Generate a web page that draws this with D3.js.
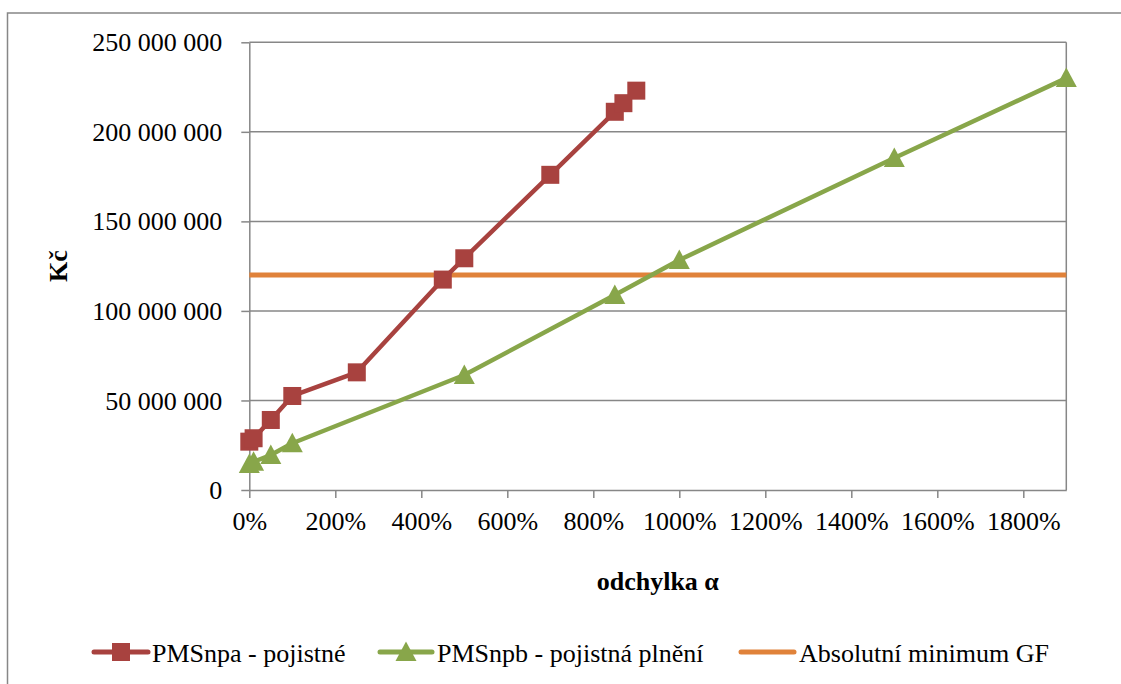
<!DOCTYPE html>
<html>
<head>
<meta charset="utf-8">
<script src="https://cdn.jsdelivr.net/npm/d3@7"></script>
<style>
body { margin: 0; background: #fff; }
</style>
</head>
<body>
<svg id="chart" width="1121" height="684"></svg>
<script>
// odchylka (v %) a hodnoty v Kč
var pojistneX = [0, 10, 50, 100, 250, 450, 500, 700, 850, 870, 900];
var pojistneY = [27.0e6, 28.9e6, 39.1e6, 52.5e6, 65.7e6, 117.5e6, 129.4e6, 176.0e6, 211.2e6, 216.0e6, 223.0e6];

var plneniX = [0, 10, 50, 100, 500, 850, 1000, 1500, 1900];
var plneniY = [14.5e6, 15.8e6, 19.5e6, 26.1e6, 64.2e6, 108.9e6, 128.4e6, 185.4e6, 230.0e6];

var minimumGF = 120e6;

var xTicks = [0, 200, 400, 600, 800, 1000, 1200, 1400, 1600, 1800];
var yTicks = [0, 50e6, 100e6, 150e6, 200e6, 250e6];

var seriesNames = ["PMSnpa - pojistné", "PMSnpb - pojistná plnění", "Absolutní minimum GF"];

var RED = "#a8423f", GREEN = "#88a64a", ORANGE = "#e0823a", GRID = "#878787";
var FONT = "'Liberation Serif', 'Times New Roman', serif";

var svg = d3.select("#chart").style("font-family", FONT);

// outer frame (right and bottom edges are cut off)
svg.append("rect")
    .attr("x", 7.5).attr("y", 13)
    .attr("width", 1200).attr("height", 800)
    .attr("fill", "none").attr("stroke", GRID).attr("stroke-width", 1.5);

var x = d3.scaleLinear().domain([0, 1900]).range([249.3, 1066.3]);
var y = d3.scaleLinear().domain([0, 250e6]).range([490, 42.3]);

var fmt = d3.formatLocale({decimal: ",", thousands: " ", grouping: [3], currency: ["", " Kč"]}).format(",d");

// horizontal gridlines
svg.append("g").selectAll("line")
    .data(yTicks.slice(1))
    .enter().append("line")
    .attr("x1", x(0)).attr("x2", x(1900))
    .attr("y1", function (d) { return y(d); })
    .attr("y2", function (d) { return y(d); })
    .attr("stroke", GRID).attr("stroke-width", 1.5);

// right border of plot area
svg.append("line")
    .attr("x1", x(1900)).attr("x2", x(1900))
    .attr("y1", y(250e6)).attr("y2", y(0))
    .attr("stroke", GRID).attr("stroke-width", 1.5);

// y axis
var yAxis = svg.append("g")
    .attr("transform", "translate(" + x(0) + ",0)")
    .call(d3.axisLeft(y).tickValues(yTicks).tickFormat(fmt).tickSizeInner(8).tickSizeOuter(0).tickPadding(19));
yAxis.attr("font-family", null).attr("font-size", null);
yAxis.select(".domain").attr("stroke", GRID).attr("stroke-width", 1.5);
yAxis.selectAll(".tick line").attr("stroke", GRID).attr("stroke-width", 1.5);
yAxis.selectAll(".tick text").style("font-family", FONT).style("font-size", "26px").attr("fill", "#000").attr("dy", "0.33em");

// x axis
var xAxis = svg.append("g")
    .attr("transform", "translate(0," + y(0) + ")")
    .call(d3.axisBottom(x).tickValues(xTicks).tickFormat(function (d) { return d + "%"; }).tickSizeInner(8).tickSizeOuter(0).tickPadding(14));
xAxis.attr("font-family", null).attr("font-size", null);
xAxis.select(".domain").attr("stroke", GRID).attr("stroke-width", 1.5);
xAxis.selectAll(".tick line").attr("stroke", GRID).attr("stroke-width", 1.5);
xAxis.selectAll(".tick text").style("font-family", FONT).style("font-size", "26px").attr("fill", "#000");

// axis titles
svg.append("text")
    .attr("x", (x(0) + x(1900)) / 2).attr("y", 590)
    .attr("text-anchor", "middle")
    .style("font-family", FONT).style("font-size", "26px").style("font-weight", "bold")
    .text("odchylka α");

svg.append("text")
    .attr("transform", "translate(67,266) rotate(-90)")
    .attr("text-anchor", "middle")
    .style("font-family", FONT).style("font-size", "26px").style("font-weight", "bold")
    .text("Kč");

// series
var line = d3.line()
    .x(function (d) { return x(d[0]); })
    .y(function (d) { return y(d[1]); });

var orange = [[0, minimumGF], [1900, minimumGF]];
var red = d3.zip(pojistneX, pojistneY);
var green = d3.zip(plneniX, plneniY);

svg.append("path").datum(orange)
    .attr("d", line).attr("fill", "none")
    .attr("stroke", ORANGE).attr("stroke-width", 5);

svg.append("path").datum(green)
    .attr("d", line).attr("fill", "none")
    .attr("stroke", GREEN).attr("stroke-width", 4.5).attr("stroke-linejoin", "round");

svg.append("path").datum(red)
    .attr("d", line).attr("fill", "none")
    .attr("stroke", RED).attr("stroke-width", 4.5).attr("stroke-linejoin", "round");

function triangle(cx, cy) {
    return "M" + cx + "," + (cy - 10.5) + "L" + (cx + 10.5) + "," + (cy + 9) + "L" + (cx - 10.5) + "," + (cy + 9) + "Z";
}

svg.append("g").selectAll("path")
    .data(green)
    .enter().append("path")
    .attr("d", function (d) { return triangle(x(d[0]), y(d[1])); })
    .attr("fill", GREEN);

svg.append("g").selectAll("rect")
    .data(red)
    .enter().append("rect")
    .attr("x", function (d) { return x(d[0]) - 9; })
    .attr("y", function (d) { return y(d[1]) - 9; })
    .attr("width", 18).attr("height", 18)
    .attr("fill", RED);

// legend
var legend = [
    {name: seriesNames[0], color: RED, x1: 94, x2: 148, marker: "square", tx: 152},
    {name: seriesNames[1], color: GREEN, x1: 380, x2: 432, marker: "triangle", tx: 437},
    {name: seriesNames[2], color: ORANGE, x1: 741, x2: 794, marker: null, tx: 799}
];
var ly = 652;

var lg = svg.append("g").selectAll("g").data(legend).enter().append("g");

lg.append("line")
    .attr("x1", function (d) { return d.x1; })
    .attr("x2", function (d) { return d.x2; })
    .attr("y1", ly).attr("y2", ly)
    .attr("stroke", function (d) { return d.color; })
    .attr("stroke-width", 5).attr("stroke-linecap", "round");

lg.filter(function (d) { return d.marker === "square"; })
    .append("rect")
    .attr("x", function (d) { return (d.x1 + d.x2) / 2 - 9; })
    .attr("y", ly - 9).attr("width", 18).attr("height", 18)
    .attr("fill", function (d) { return d.color; });

lg.filter(function (d) { return d.marker === "triangle"; })
    .append("path")
    .attr("d", function (d) { return triangle((d.x1 + d.x2) / 2, ly); })
    .attr("fill", function (d) { return d.color; });

lg.append("text")
    .attr("x", function (d) { return d.tx; })
    .attr("y", 662)
    .style("font-family", FONT).style("font-size", "26px")
    .text(function (d) { return d.name; });
</script>
</body>
</html>
